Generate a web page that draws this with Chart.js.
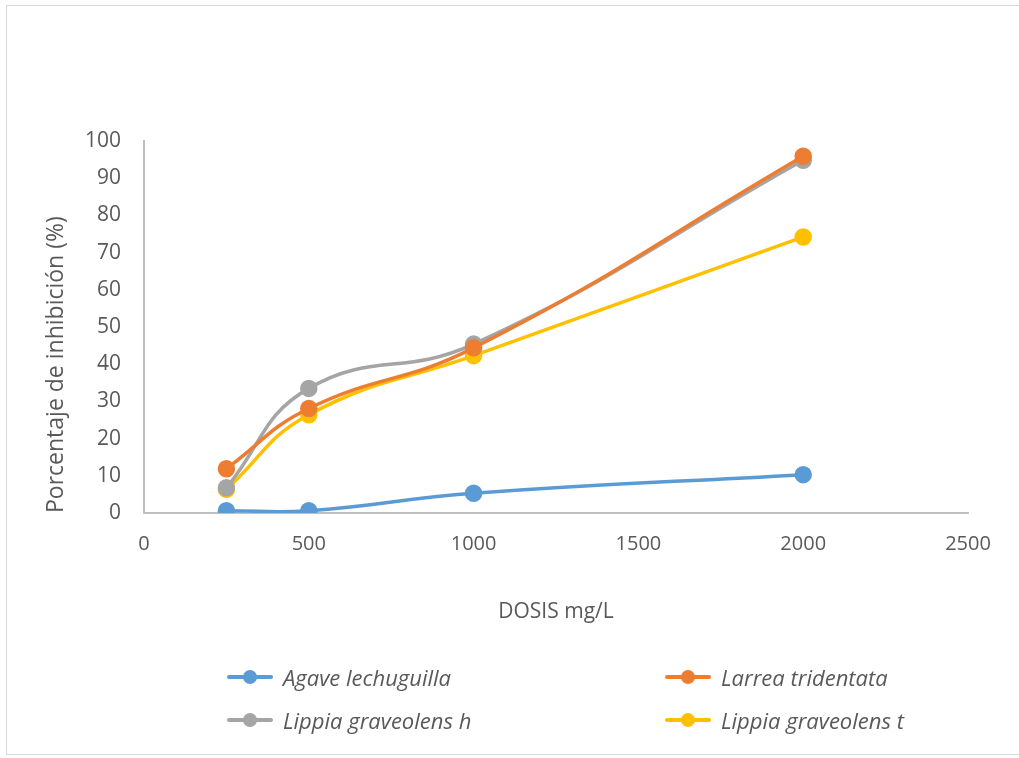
<!DOCTYPE html>
<html>
<head>
<meta charset="utf-8">
<script src="https://cdn.jsdelivr.net/npm/chart.js@4.4.1/dist/chart.umd.min.js"></script>
<style>
    body { margin:0; background:#fff; }
    #wrap { position:relative; width:1019px; height:758px; }
    #frame { position:absolute; left:6px; top:5px; width:1030px; height:750px; border:1.5px solid #d9d9d9; box-sizing:border-box; }
    #legend { position:absolute; left:0; top:0; width:1019px; height:758px; font-family:"Open Sans", sans-serif; font-style:italic; font-size:22px; color:#595959; }
    .item { position:absolute; display:flex; align-items:center; height:26px; }
    .mark { position:relative; width:46px; height:26px; margin-right:10px; }
    .mark .ln { position:absolute; left:0; right:0; top:11px; height:4px; border-radius:2px; }
    .mark .dt { position:absolute; left:16px; top:6px; width:14px; height:14px; border-radius:50%; }
</style>
</head>
<body>
<div id="wrap">
    <div id="frame"></div>
    <canvas id="myChart" width="1019" height="758"></canvas>
    <div id="legend"></div>
</div>
<script>
const doses = [250, 500, 1000, 2000];
const seriesNames = ['Agave lechuguilla', 'Larrea tridentata', 'Lippia graveolens h', 'Lippia graveolens t'];
const agave = [0.6, 0.6, 5.3, 10.3];
const larrea = [11.9, 28.1, 44.4, 95.9];
const lippiaH = [6.8, 33.5, 45.4, 94.8];
const lippiaT = [6.4, 26.4, 42.3, 74.2];
const colors = ['#5b9bd5', '#ed7d31', '#a5a5a5', '#ffc000'];
const xTicks = [0, 500, 1000, 1500, 2000, 2500];

const allValues = [agave, larrea, lippiaH, lippiaT];

const ctx = document.getElementById('myChart').getContext('2d');

let chart = new Chart(ctx, {
    type: 'scatter',
    data: {
        datasets: allValues.map((vals, i) => ({
            label: seriesNames[i],
            data: doses.map((d, j) => ({x: d, y: vals[j]})),
            showLine: true,
            borderColor: colors[i],
            backgroundColor: colors[i],
            borderWidth: 3.5,
            pointRadius: 7,
            pointHoverRadius: 7,
            tension: 0.45
        }))
    },
    options: {
        responsive: false,
        animation: false,
        layout: { padding: { left: 0, right: 51, top: 141, bottom: 125 } },
        plugins: {
            legend: { display: false },
            tooltip: { enabled: false }
        },
        scales: {
            x: {
                type: 'linear',
                min: 0, max: 2500,
                afterBuildTicks: s => { s.ticks = xTicks.map(v => ({value: v})); },
                afterFit: s => { s.height = 120; },
                grid: { display: false, drawTicks: false },
                border: { display: true, color: '#bfbfbf', width: 2 },
                ticks: {
                    color: '#595959', font: { family: 'Open Sans', size: 20 }, padding: 19,
                    callback: v => String(v)
                },
                title: {
                    display: true, text: 'DOSIS mg/L', color: '#595959',
                    font: { family: 'Open Sans', size: 21 },
                    padding: { top: 0, bottom: 8 }
                }
            },
            y: {
                min: 0, max: 100,
                ticks: { stepSize: 10, color: '#595959', font: { family: 'Open Sans', size: 21 }, padding: 23 },
                afterFit: s => { s.width = 144; },
                grid: { display: false, drawTicks: false },
                border: { display: true, color: '#bfbfbf', width: 2 },
                title: {
                    display: true, text: 'Porcentaje de inhibición (%)', color: '#595959',
                    font: { family: 'Open Sans', size: 23 },
                    align: 'start',
                    padding: { top: 43, bottom: 0 }
                }
            }
        }
    }
});

// legend in two columns, like the original
const legend = document.getElementById('legend');
const spots = [[227, 664], [665, 664], [227, 707], [665, 707]];
chart.data.datasets.forEach((ds, i) => {
    const item = document.createElement('div');
    item.className = 'item';
    item.style.left = spots[i][0] + 'px';
    item.style.top = spots[i][1] + 'px';
    item.innerHTML = `<div class="mark"><div class="ln" style="background:${ds.borderColor}"></div><div class="dt" style="background:${ds.borderColor}"></div></div><span>${ds.label}</span>`;
    legend.appendChild(item);
});
</script>
</body>
</html>
